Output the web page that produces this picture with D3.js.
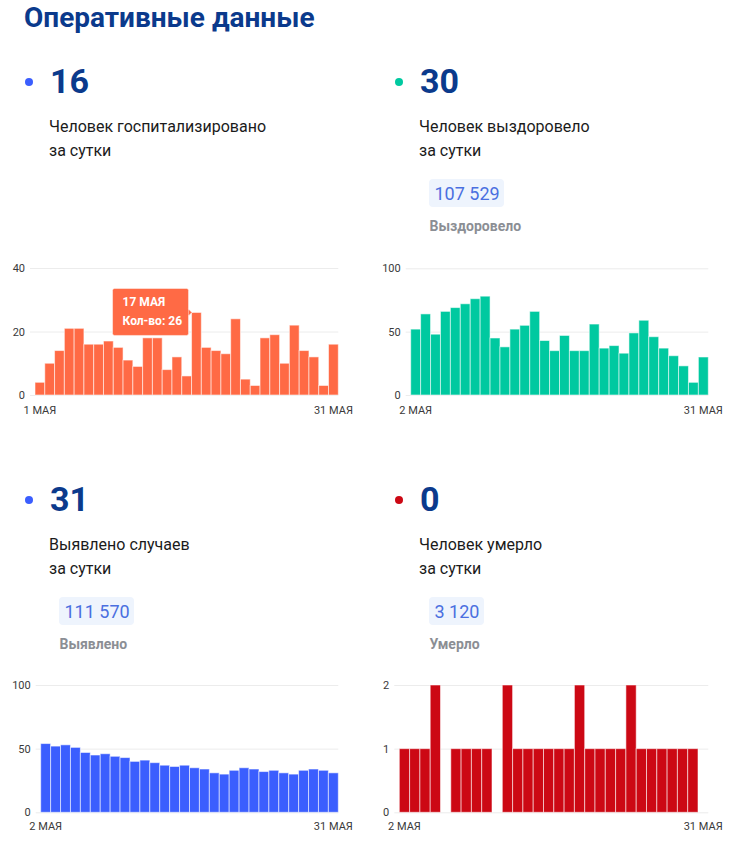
<!DOCTYPE html>
<html><head><meta charset="utf-8">
<script src="https://cdn.jsdelivr.net/npm/d3@7/dist/d3.min.js"></script>
<style>
html,body{margin:0;padding:0;background:#fff;}
svg{display:block;font-family:Roboto, "Open Sans", sans-serif;}
</style></head>
<body>
<svg id="c" width="746" height="851"></svg>
<script>
// ---------- data ----------
const title = "Оперативные данные";

const daysHosp = [1,2,3,4,5,6,7,8,9,10,11,12,13,14,15,16,17,18,19,20,21,22,23,24,25,26,27,28,29,30,31];
const daysFrom2 = [2,3,4,5,6,7,8,9,10,11,12,13,14,15,16,17,18,19,20,21,22,23,24,25,26,27,28,29,30,31];

const hospitalized = [4,10,14,21,21,16,16,17,15,11,9,18,18,8,12,6,26,15,14,13,24,5,3,18,19,10,22,14,12,3,16];
const recovered   = [52,64,48,66,69,72,76,78,45,38,52,55,66,43,35,47,35,35,56,37,39,33,49,59,46,37,31,23,10,30];
const detected    = [54,52,53,51,47,45,46,44,43,40,41,39,37,36,37,35,34,31,30,33,35,34,32,33,31,30,33,34,33,31];
const deaths      = [1,1,1,2,0,1,1,1,1,0,2,1,1,1,1,1,1,2,1,1,1,1,2,1,1,1,1,1,1,0];

const hospTicks = [0,20,40];
const recTicks  = [0,50,100];
const detTicks  = [0,50,100];
const deathTicks = [0,1,2];

const hospXLabels = ["1 МАЯ","31 МАЯ"];
const recXLabels  = ["2 МАЯ","31 МАЯ"];
const detXLabels  = ["2 МАЯ","31 МАЯ"];
const deathXLabels = ["2 МАЯ","31 МАЯ"];

const bigNumbers = ["16","30","31","0"];
const captions = [["Человек госпитализировано","за сутки"],["Человек выздоровело","за сутки"],["Выявлено случаев","за сутки"],["Человек умерло","за сутки"]];
const totals = [null,"107 529","111 570","3 120"];
const totalLabels = [null,"Выздоровело","Выявлено","Умерло"];

const tooltipDay = 17;
const tooltipLines = ["17 МАЯ","Кол-во: 26"];

// ---------- styles ----------
const C = {
  navy:"#0b3a8c", text:"#1b1b1b", orange:"#ff6a45", teal:"#00c9a0",
  blue:"#3b5efe", red:"#cc0814", grid:"#ececec", tick:"#3a3a3a",
  boxFill:"#eef4fd", boxText:"#4a6fe0", gray:"#8b8e94"
};

const svg = d3.select("#c");
svg.append("rect").attr("width",746).attr("height",851).attr("fill","#fff");

svg.append("text").attr("x",24).attr("y",27).attr("font-size",28).attr("font-weight",700)
  .attr("fill",C.navy).text(title);

// ---------- header blocks ----------
const headers = [
  {x:50, y:93, dot:C.blue, dotX:29, box:null},
  {x:420, y:93, dot:C.teal, dotX:399, box:{x:429,w:75}},
  {x:50, y:511, dot:C.blue, dotX:29, box:{x:59,w:75}},
  {x:420, y:511, dot:C.red, dotX:399, box:{x:429,w:55}}
];
headers.forEach((h,i)=>{
  const g = svg.append("g");
  g.append("circle").attr("cx",h.dotX).attr("cy",h.y-11).attr("r",4).attr("fill",h.dot);
  g.append("text").attr("x",h.x).attr("y",h.y).attr("font-size",34).attr("font-weight",700)
    .attr("fill",C.navy).text(bigNumbers[i]);
  captions[i].forEach((t,j)=>{
    g.append("text").attr("x",h.x-1).attr("y",h.y+39+j*23.5).attr("font-size",16)
      .attr("fill",C.text).text(t);
  });
  if (h.box){
    const by = h.y+86;
    g.append("rect").attr("x",h.box.x).attr("y",by).attr("width",h.box.w).attr("height",28)
      .attr("rx",4).attr("fill",C.boxFill);
    g.append("text").attr("x",h.box.x+5.5).attr("y",by+20.5).attr("font-size",18)
      .attr("fill",C.boxText).text(totals[i]);
    g.append("text").attr("x",h.box.x+0.5).attr("y",by+51.5).attr("font-size",14).attr("font-weight",700)
      .attr("fill",C.gray).text(totalLabels[i]);
  }
});

// ---------- bar charts ----------
function barChart(opt){
  const g = svg.append("g");
  const x = d3.scaleBand().domain(opt.days).range([opt.x0,opt.x1]).padding(0);
  const y = d3.scaleLinear().domain([0,opt.ticks[opt.ticks.length-1]]).range([opt.yBase,opt.yTop]);

  const ya = d3.axisLeft(y).tickValues(opt.ticks).tickFormat(d3.format("d"))
    .tickSize(-(opt.x1-opt.x0+5)).tickPadding(5);
  const yg = g.append("g").attr("transform",`translate(${opt.x0-5},0)`).call(ya);
  yg.select(".domain").remove();
  yg.selectAll("line").attr("stroke",C.grid).attr("stroke-width",1);
  yg.selectAll("text").attr("font-size",11).attr("fill",C.tick).attr("font-family","Roboto, sans-serif");

  g.append("g").selectAll("rect").data(opt.values.map((v,i)=>({d:opt.days[i],v})).filter(o=>o.v>0))
    .join("rect")
    .attr("x",o=>x(o.d)).attr("width",x.bandwidth())
    .attr("y",o=>y(o.v)).attr("height",o=>y(0)-y(o.v))
    .attr("fill",opt.color).attr("stroke","rgba(255,255,255,0.55)").attr("stroke-width",1);

  const first = opt.days[0], last = opt.days[opt.days.length-1];
  const xa = d3.axisBottom(x).tickValues([first,last]).tickSize(0).tickPadding(opt.xPad)
    .tickFormat(d=> d===first ? opt.xLabels[0] : opt.xLabels[1]);
  const xg = g.append("g").attr("transform",`translate(0,${opt.yBase})`).call(xa);
  xg.select(".domain").remove();
  xg.selectAll("text").attr("font-size",11).attr("fill",C.tick).attr("font-family","Roboto, sans-serif");
  return {g,x,y};
}

const h1 = barChart({days:daysHosp, values:hospitalized, ticks:hospTicks, xLabels:hospXLabels,
  color:C.orange, x0:35, x1:338.3, yTop:268, yBase:395, xPad:11});
barChart({days:daysFrom2, values:recovered, ticks:recTicks, xLabels:recXLabels,
  color:C.teal, x0:410.7, x1:708.3, yTop:268.3, yBase:395, xPad:11});
barChart({days:daysFrom2, values:detected, ticks:detTicks, xLabels:detXLabels,
  color:C.blue, x0:40.7, x1:338.3, yTop:685, yBase:812.3, xPad:10});
barChart({days:daysFrom2, values:deaths, ticks:deathTicks, xLabels:deathXLabels,
  color:C.red, x0:399.3, x1:708.3, yTop:685, yBase:812.3, xPad:10});

// ---------- tooltip ----------
{
  const ti = daysHosp.indexOf(tooltipDay);
  const bx = h1.x(tooltipDay) - 3;
  const by = h1.y(hospitalized[ti]);
  const tg = svg.append("g");
  tg.append("rect").attr("x",bx-76).attr("y",by-24).attr("width",76).attr("height",47)
    .attr("rx",2).attr("fill",C.orange).attr("stroke","rgba(255,255,255,0.6)").attr("stroke-width",0.8);
  tg.append("path").attr("d",`M${bx},${by-3.5} L${bx+3.5},${by} L${bx},${by+3.5}`)
    .attr("fill",C.orange).attr("stroke","#fff").attr("stroke-width",0.8);
  tooltipLines.forEach((t,j)=>{
    tg.append("text").attr("x",bx-66).attr("y",by-6+j*18.5).attr("font-size",12).attr("font-weight",700)
      .attr("fill","#fff").text(t);
  });
}
</script>
</body></html>
